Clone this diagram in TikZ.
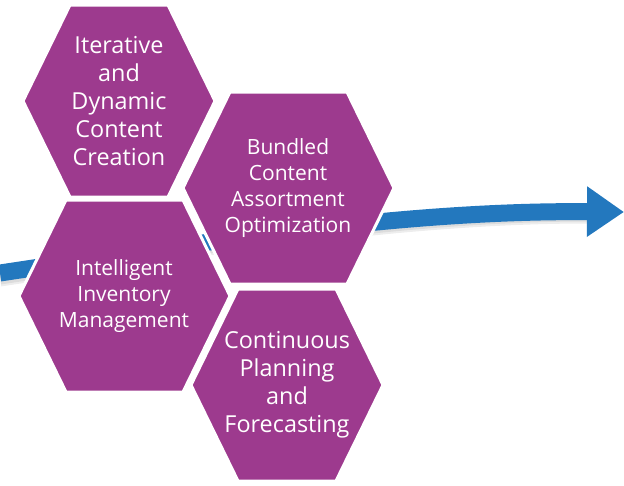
\documentclass[tikz,border=0pt]{standalone}
\usepackage{fontspec}
\setmainfont{Open Sans}
\usepackage{tikz}
\usetikzlibrary{arrows.meta}

\definecolor{hexpurple}{RGB}{157,58,142}
\definecolor{flowblue}{RGB}{35,120,190}

\tikzset{
  hexcell/.style={fill=hexpurple, draw=white, line width=3pt, line join=miter},
  bigtext/.style={text=white, align=center, inner sep=0pt, font=\fontsize{23.4}{28}\selectfont},
  smalltext/.style={text=white, align=center, inner sep=0pt, font=\fontsize{21}{26}\selectfont},
  flow/.style={draw=flowblue, line width=17pt, -{Triangle[length=37pt,width=48pt]}},
  flowshadow/.style={draw=black, line width=17pt, opacity=0.07}
}

\begin{document}
\begin{tikzpicture}[x=1pt, y=-1pt]
                \useasboundingbox (0,0) rectangle (624,485);

                % trend arrow (behind the cells)
                \coordinate (start) at (0,273);
                \coordinate (tip) at (624,212);
                \draw[flowshadow] ([yshift=-5pt]start) .. controls (200,248) and (400,215) .. (588,215);
                \draw[flowshadow] ([yshift=-3pt]start) .. controls (200,246) and (400,213) .. (588,213);
                \draw[flow] (start) .. controls (200,243) and (400,210) .. (tip);

                % cells
                \filldraw[hexcell] (23,101) -- (70,5) -- (168,5) -- (215,101) -- (168,197) -- (70,197) -- cycle;
                \filldraw[hexcell] (183,188) -- (230,92) -- (347,92) -- (394,188) -- (347,284) -- (230,284) -- cycle;
                \filldraw[hexcell] (19,296) -- (66,200) -- (183,200) -- (230,296) -- (183,392) -- (66,392) -- cycle;
                \filldraw[hexcell] (191,385) -- (238,289) -- (336,289) -- (383,385) -- (336,481) -- (238,481) -- cycle;

                \node[bigtext] (iterative) at (119,101) {Iterative\\and\\Dynamic\\Content\\Creation};
                \node[smalltext] (bundled) at (288,188) {Bundled\\Content\\Assortment\\Optimization};
                \node[smalltext] (intelligent) at (124,296) {Intelligent\\Inventory\\Management};
                \node[bigtext] (continuous) at (287,385) {Continuous\\Planning\\and\\Forecasting};
\end{tikzpicture}
\end{document}
